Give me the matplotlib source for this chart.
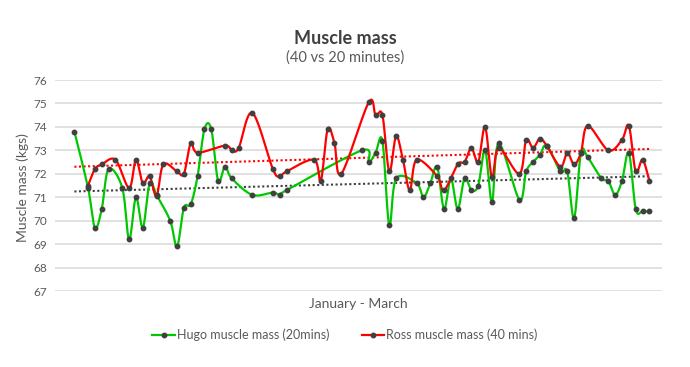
import numpy as np
import matplotlib.pyplot as plt
from matplotlib.lines import Line2D

plt.rcParams['font.family'] = ['Lato', 'DejaVu Sans']

# day index (0 = 1 Jan) and muscle mass in kg
hugo_days = [0, 2, 3, 4, 5, 7, 8, 9, 10, 11, 12, 14, 15, 16, 17, 18, 19, 20, 21, 22, 23,
             26, 29, 30, 31, 42, 43, 44, 45, 46, 47, 50, 51, 52, 53, 54, 55, 56, 57, 58,
             59, 60, 61, 62, 65, 66, 67, 68, 69, 71, 72, 73, 74, 75, 77, 78, 79, 80, 81,
             82, 83, 84]
hugo_mass = [73.8, 71.4, 69.7, 70.5, 72.2, 71.4, 69.2, 71.0, 69.7, 71.6, 71.1, 70.0, 68.9,
             70.55, 70.7, 71.9, 73.9, 73.9, 71.7, 72.3, 71.8,
             71.1, 71.2, 71.1, 71.3, 73.0, 72.5, 72.9, 73.4, 69.8, 71.8, 71.6, 71.0, 71.6,
             72.3, 70.5, 71.8, 70.5, 71.8, 71.3,
             71.5, 73.0, 70.8, 73.3, 70.9, 72.1, 72.5, 72.8, 73.2, 72.1, 72.1, 70.1, 72.9,
             72.7, 71.8, 71.7, 71.1, 71.7, 72.9,
             70.5, 70.4, 70.4]

ross_days = [2, 3, 4, 6, 8, 9, 10, 11, 12, 13, 15, 16, 17, 18, 22, 23, 24, 26, 29, 30, 31,
             35, 36, 37, 38, 39, 43, 44, 45, 46, 47, 48, 49, 50, 53, 54, 56, 57, 58, 59,
             60, 61, 62, 65, 66, 67, 68, 69, 71, 72, 73, 74, 75, 78, 80, 81, 82, 83, 84]
ross_mass = [71.5, 72.2, 72.4, 72.6, 71.4, 72.6, 71.6, 71.9, 71.05, 72.4, 72.1, 72.0, 73.3,
             72.9, 73.2, 73.0, 73.1, 74.6, 72.2, 71.9, 72.1,
             72.6, 71.7, 73.9, 73.3, 72.0, 75.05, 74.5, 74.5, 72.1, 73.6, 72.6, 71.3, 72.6,
             71.9, 71.3, 72.4, 72.5, 73.1, 72.5,
             74.0, 71.85, 73.1, 72.0, 73.45, 73.1, 73.5, 73.2, 72.3, 72.9, 72.4, 72.9, 74.05,
             73.0, 73.45, 74.05, 72.1, 72.6, 71.7]

GREEN = '#00C800'
RED = '#FF0000'
MARK = '#404040'
TXT = '#595959'


def smooth(xs, ys, n=20):
    # Catmull-Rom style bezier smoothing, like spreadsheet "smoothed line"
    p = np.column_stack([xs, ys]).astype(float)
    pts = np.vstack([p[0], p, p[-1]])
    out = []
    t = np.linspace(0, 1, n)[:, None]
    for i in range(1, len(pts) - 2):
        p0, p1, p2, p3 = pts[i - 1], pts[i], pts[i + 1], pts[i + 2]
        c1 = p1 + (p2 - p0) / 6
        c2 = p2 - (p3 - p1) / 6
        seg = ((1 - t) ** 3) * p1 + 3 * ((1 - t) ** 2) * t * c1 + 3 * (1 - t) * t ** 2 * c2 + t ** 3 * p2
        out.append(seg)
    out = np.vstack(out)
    return out[:, 0], out[:, 1]


fig = plt.figure(figsize=(6.9, 3.67), dpi=100)
ax = fig.add_axes([0.080, 0.207, 0.879, 0.575])

for days, mass, col in [(hugo_days, hugo_mass, GREEN), (ross_days, ross_mass, RED)]:
    sx, sy = smooth(days, mass)
    ax.plot(sx, sy, color=col, lw=1.6, zorder=3, solid_capstyle='round')
    ax.plot(days, mass, 'o', color=MARK, ms=3.2, zorder=4)

# linear trendlines
tx = np.array([0, 84])
for days, mass, col in [(ross_days, ross_mass, RED), (hugo_days, hugo_mass, '#404040')]:
    k, b = np.polyfit(days, mass, 1)
    ax.plot(tx, k * tx + b, ls=(0, (1, 1.2)), color=col, lw=1.5, zorder=2)

ax.set_ylim(67, 76)
ax.set_yticks(range(67, 77))
ax.set_xlim(-2.8, 85.8)
ax.set_xticks([])
ax.grid(axis='y', color='#d9d9d9', lw=1.1)
ax.set_axisbelow(True)
for s in ax.spines.values():
    s.set_visible(False)
ax.tick_params(axis='y', length=0, labelsize=8.5, labelcolor=TXT, pad=6)
ax.set_ylabel('Muscle mass (kgs)', fontsize=10, color=TXT)
ax.yaxis.set_label_coords(-0.044, 0.49)
ax.set_xlabel('January - March', fontsize=10, color=TXT, labelpad=5)

fig.text(0.5, 0.895, 'Muscle mass', ha='center', va='center', fontsize=13,
         fontweight='bold', color='#404040')
fig.text(0.5, 0.843, '(40 vs 20 minutes)', ha='center', va='center', fontsize=10.5,
         color=TXT)

handles = [Line2D([], [], color=GREEN, lw=1.6, marker='o', ms=3.2, mfc=MARK, mec=MARK),
           Line2D([], [], color=RED, lw=1.6, marker='o', ms=3.2, mfc=MARK, mec=MARK)]
fig.legend(handles, ['Hugo muscle mass (20mins)', 'Ross muscle mass (40 mins)'],
           loc='center', bbox_to_anchor=(0.5, 0.087), ncol=2, frameon=False,
           fontsize=9, handlelength=1.8, handletextpad=0.15, columnspacing=2.6,
           labelcolor=TXT)

fig.savefig('out.png', dpi=100)
